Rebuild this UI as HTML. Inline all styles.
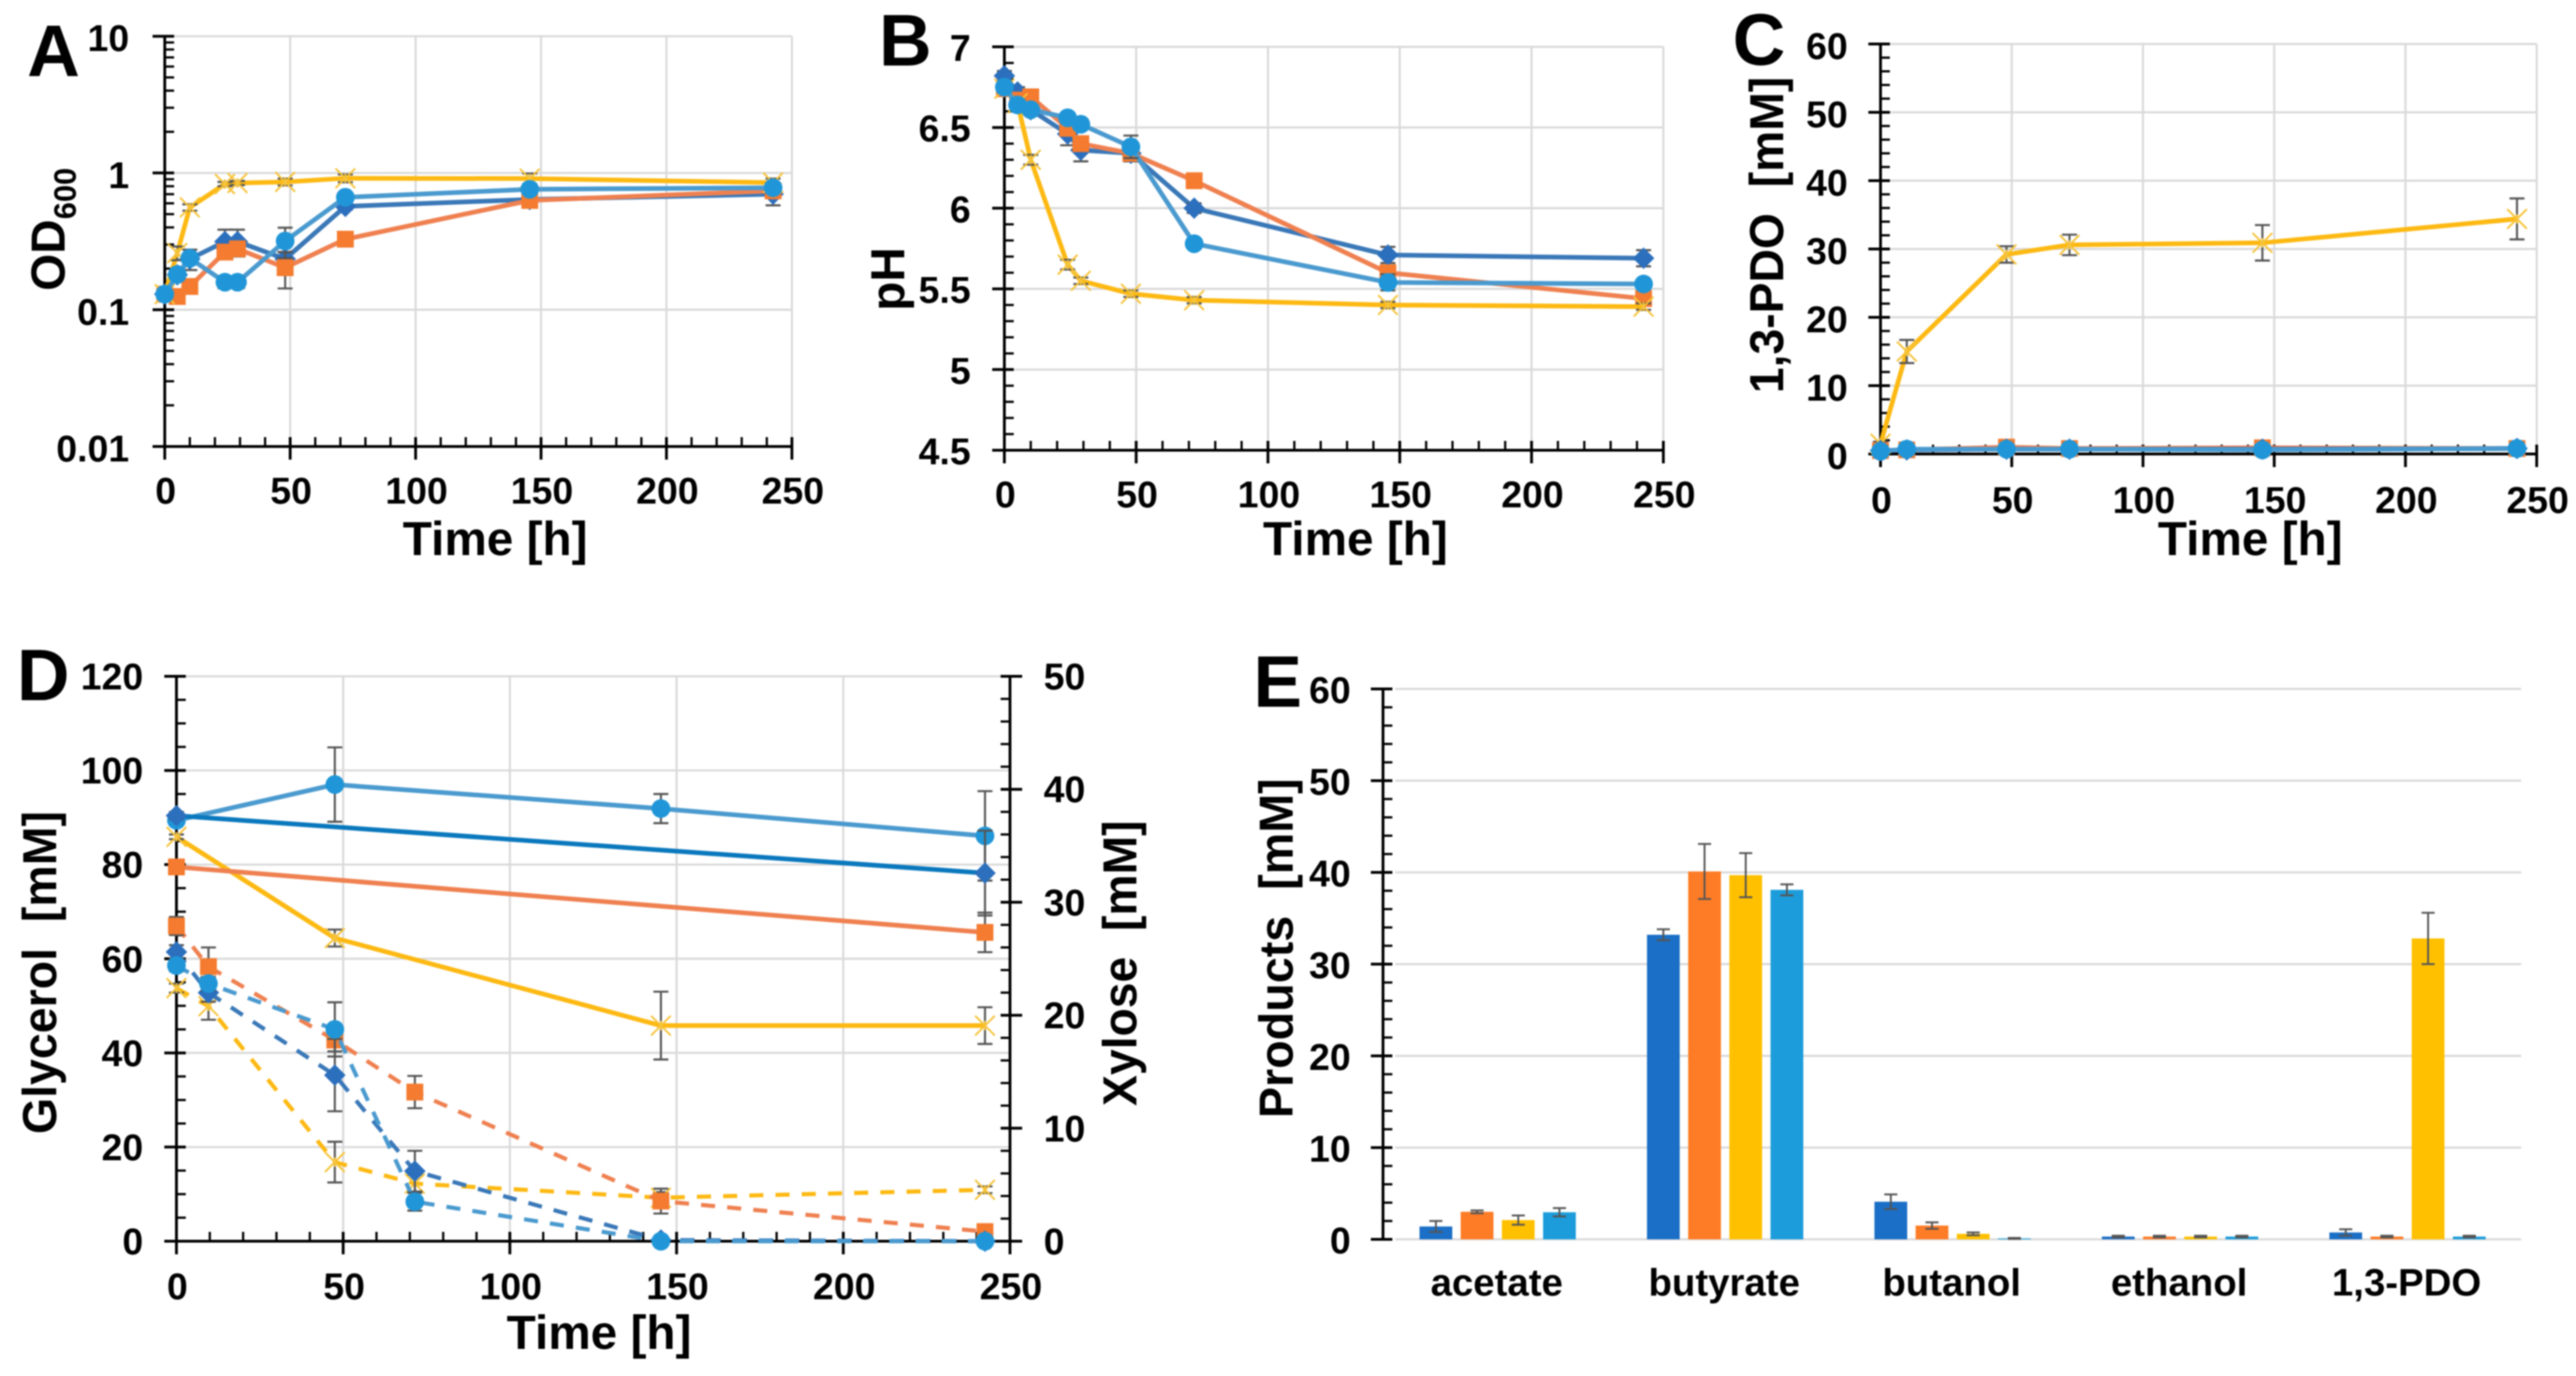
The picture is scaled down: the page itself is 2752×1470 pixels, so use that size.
<!DOCTYPE html>
<html lang="en">
<head>
<meta charset="utf-8">
<title>Fermentation time courses</title>
<style>
html,body{margin:0;padding:0;background:#fff;}
svg{display:block;filter:blur(0.8px);}
text{font-family:"Liberation Sans",sans-serif;fill:#000;}
.title{font-weight:700;font-size:51px;}
.letter{font-weight:700;font-size:78px;}
.tick{font-weight:700;font-size:40px;}
</style>
</head>
<body>
<svg id="fig" xmlns="http://www.w3.org/2000/svg" width="2752" height="1470" viewBox="0 0 2752 1470">
<rect width="2752" height="1470" fill="#fff"/>
<g id="panel-a"></g>
<g id="panel-b"></g>
<g id="panel-c"></g>
<g id="panel-d"></g>
<g id="panel-e"></g>

<text class="letter" x="29" y="81">A</text>
<text class="letter" x="939" y="70">B</text>
<text class="letter" x="1851" y="69">C</text>
<text class="letter" x="18" y="748">D</text>
<text class="letter" x="1339" y="755">E</text>

<text class="title" x="529" y="593" text-anchor="middle">Time [h]</text>
<text class="title" x="1448" y="593" text-anchor="middle">Time [h]</text>
<text class="title" x="2404" y="593" text-anchor="middle">Time [h]</text>
<text class="title" x="640" y="1441" text-anchor="middle">Time [h]</text>

<text class="title" transform="translate(69,245) rotate(-90)" text-anchor="middle">OD<tspan font-size="33" dy="12">600</tspan></text>
<text class="title" transform="translate(966,298) rotate(-90)" text-anchor="middle">pH</text>
<text class="title" transform="translate(1905,251) rotate(-90)" text-anchor="middle" textLength="338" lengthAdjust="spacingAndGlyphs">1,3-PDO&#160;&#160;[mM]</text>
<text class="title" transform="translate(60,1039) rotate(-90)" text-anchor="middle" textLength="345" lengthAdjust="spacingAndGlyphs">Glycerol&#160;&#160;[mM]</text>
<text class="title" transform="translate(1214,1029) rotate(-90)" text-anchor="middle" textLength="305" lengthAdjust="spacingAndGlyphs">Xylose&#160;&#160;[mM]</text>
<text class="title" transform="translate(1381,1013) rotate(-90)" text-anchor="middle" textLength="363" lengthAdjust="spacingAndGlyphs">Products&#160;&#160;[mM]</text>
</svg>

<script>
// ---------- Panel A data (OD600) ----------
const timesA = [0, 5, 10, 24, 29, 48, 72, 145.5, 242.5];
const odDark = [0.13, 0.18, 0.235, 0.315, 0.315, 0.235, 0.57, 0.64, 0.70];
const odOrange = [0.13, 0.125, 0.148, 0.264, 0.279, 0.203, 0.328, 0.63, 0.74];
const odYellow = [0.13, 0.26, 0.56, 0.83, 0.845, 0.86, 0.915, 0.91, 0.85];
const odLight = [0.13, 0.181, 0.238, 0.159, 0.159, 0.318, 0.664, 0.76, 0.78];
const odDarkErr = [0.01, 0.02, 0.04, 0.07, 0.07, 0.03, 0.03, 0.03, 0.12];
const odOrangeErr = [0.01, 0.01, 0.01, 0.02, 0.02, 0.06, 0.02, 0.06, 0.03];
const odYellowErr = [0.01, 0.03, 0.03, 0.03, 0.03, 0.05, 0.06, 0.08, 0.06];
const odLightErr = [0.01, 0.01, 0.01, 0.015, 0.015, 0.08, 0.05, 0.05, 0.06];
const odTicks = [10, 1, 0.1, 0.01];
const odTickLabels = ['10', '1', '0.1', '0.01'];

// ---------- Panel B data (pH) ----------
const timesB = [0, 5, 10, 24, 29, 48, 72, 145.5, 242.5];
const phDark = [6.82, 6.72, 6.61, 6.46, 6.36, 6.34, 6.0, 5.71, 5.69];
const phOrange = [6.74, 6.67, 6.69, 6.495, 6.40, 6.34, 6.17, 5.60, 5.44];
const phYellow = [6.74, 6.65, 6.30, 5.65, 5.55, 5.47, 5.43, 5.40, 5.39];
const phLight = [6.75, 6.64, 6.61, 6.56, 6.52, 6.38, 5.78, 5.54, 5.53];
const phDarkErr = [0.03, 0.03, 0.03, 0.07, 0.07, 0.05, 0.03, 0.05, 0.05];
const phOrangeErr = [0.03, 0.02, 0.02, 0.03, 0.02, 0.04, 0.03, 0.03, 0.03];
const phYellowErr = [0.02, 0.02, 0.03, 0.03, 0.02, 0.02, 0.02, 0.02, 0.02];
const phLightErr = [0.03, 0.03, 0.03, 0.03, 0.03, 0.07, 0.03, 0.05, 0.03];
const phTicks = [7, 6.5, 6, 5.5, 5, 4.5];
const phTickLabels = ['7', '6.5', '6', '5.5', '5', '4.5'];

// ---------- Panel C data (1,3-PDO) ----------
const timesC = [0, 10, 48, 72, 145.5, 242.5];
const pdoDark = [0.5, 0.6, 0.7, 0.7, 0.7, 0.8];
const pdoOrange = [0.5, 0.6, 1.0, 0.8, 0.9, 0.8];
const pdoYellow = [1.5, 15, 29.2, 30.6, 30.9, 34.4];
const pdoLight = [0.4, 0.7, 0.7, 0.7, 0.6, 0.8];
const pdoYellowErr = [0.3, 1.7, 1.2, 1.5, 2.6, 3.0];
const pdoBlueErr = [0.1, 0.1, 0.1, 0.1, 0.1, 0.1];
const pdoTicks = [60, 50, 40, 30, 20, 10, 0];
const pdoTickLabels = ['60', '50', '40', '30', '20', '10', '0'];

// ---------- Panel D data (glycerol solid / xylose dashed) ----------
const timesGlyDark = [0, 242.5];
const glyDark = [90.4, 78.2];
const glyDarkErr = [0.8, 9];
const timesGlyOrange = [0, 242.5];
const glyOrange = [79.5, 65.6];
const glyOrangeErr = [0.8, 4.2];
const timesGlyFull = [0, 47.5, 145.3, 242.5];
const glyYellow = [85.9, 64.4, 45.8, 45.8];
const glyYellowErr = [0.5, 1.8, 7.2, 3.9];
const glyLight = [89.4, 97, 91.9, 86.1];
const glyLightErr = [1, 7.9, 3.1, 9.5];
const timesXyl = [0, 9.6, 47.5, 71.5, 145.3, 242.5];
const xylDark = [25.6, 22, 14.7, 6.2, 0.1, 0];
const xylDarkErr = [0.6, 0.8, 3.2, 1.8, 0.1, 0.1];
const xylOrange = [27.9, 24.3, 17.8, 13.2, 3.55, 0.85];
const xylOrangeErr = [0.8, 1.7, 1.0, 1.43, 1.1, 0.2];
const xylYellow = [22.4, 20.8, 7.0, 5.1, 3.85, 4.55];
const xylYellowErr = [0.4, 1.2, 1.8, 0.8, 0.5, 0.3];
const xylLight = [24.4, 22.8, 18.75, 3.5, 0, 0];
const xylLightErr = [0.5, 0.6, 2.4, 0.8, 0.1, 0.1];
const glyTicks = [120, 100, 80, 60, 40, 20, 0];
const glyTickLabels = ['120', '100', '80', '60', '40', '20', '0'];
const xylTicks = [50, 40, 30, 20, 10, 0];
const xylTickLabels = ['50', '40', '30', '20', '10', '0'];

// ---------- Panel E data (final products) ----------
const productCategories = ['acetate', 'butyrate', 'butanol', 'ethanol', '1,3-PDO'];
const productDark = [1.4, 33.2, 4.1, 0.3, 0.75];
const productOrange = [3.0, 40.1, 1.5, 0.3, 0.3];
const productYellow = [2.1, 39.7, 0.6, 0.3, 32.8];
const productLight = [2.95, 38.1, 0.1, 0.3, 0.3];
const productDarkErr = [0.6, 0.6, 0.8, 0.1, 0.35];
const productOrangeErr = [0.15, 3.0, 0.35, 0.1, 0.1];
const productYellowErr = [0.5, 2.4, 0.15, 0.1, 2.8];
const productLightErr = [0.45, 0.6, 0.05, 0.1, 0.1];
const productTicks = [60, 50, 40, 30, 20, 10, 0];
const productTickLabels = ['60', '50', '40', '30', '20', '10', '0'];

// ---------- Shared time axis ----------
const timeTicks = [0, 50, 100, 150, 200, 250];
const timeTickLabels = ['0', '50', '100', '150', '200', '250'];

const NS = 'http://www.w3.org/2000/svg';
const COLORS = {dark: '#2b6fbd', orange: '#f47b2f', yellow: '#fdb913', light: '#2096d8'};
const LINES = {dark: '#3a78b8', orange: '#ef8050', yellow: '#fdb913', light: '#4a9acf'};
const BARS = {dark: '#1b6fc6', orange: '#ff7c26', yellow: '#ffc000', light: '#1c9cdb'};
const GRID = '#d9d9d9';
const ERR = '#555555';

function mk(parent, tag, attrs, text) {
  const e = document.createElementNS(NS, tag);
  for (const k in attrs) e.setAttribute(k, attrs[k]);
  if (text !== undefined) e.textContent = text;
  parent.appendChild(e);
  return e;
}
function linearScale(d0, d1, r0, r1) { return v => r0 + (v - d0) / (d1 - d0) * (r1 - r0); }
function logScale(d0, d1, r0, r1) {
  const a = Math.log10(d0), b = Math.log10(d1);
  return v => r0 + (Math.log10(v) - a) / (b - a) * (r1 - r0);
}
function segment(parent, x1, y1, x2, y2, stroke, width) {
  return mk(parent, 'line', {x1, y1, x2, y2, stroke, 'stroke-width': width});
}

function drawGridLines(g, x, y, xVals, yVals, left, right, top, bottom) {
  xVals.forEach(v => {
    if (v === 0) return;
    const l = segment(g, x(v), top, x(v), bottom, GRID, 2.2);
    
    
  });
  yVals.forEach(v => {
    const l = segment(g, left, y(v), right, y(v), GRID, 2.2);
    
    
  });
}

function drawTimeAxis(g, x, axisY, baseline) {
  const axis = segment(g, x(0), axisY, x(250), axisY, '#000', 3);
  
  
  for (let t = 0; t <= 250; t += 10) {
    const major = t % 50 === 0;
    const tk = segment(g, x(t), axisY - 10, x(t), axisY + (major ? 14 : 0), '#000', major ? 3 : 2.4);
    
    
  }
  timeTicks.forEach((t, i) => {
    const lb = mk(g, 'text', {class: 'tick', x: x(t) + 1, y: baseline, 'text-anchor': 'middle'}, timeTickLabels[i]);
    
    
  });
}

function drawValueAxis(g, y, ticks, labels, minors, axisX, labelX, anchor, dy, side) {
  const top = Math.min(...ticks.map(y)), bot = Math.max(...ticks.map(y));
  const axis = segment(g, axisX, top, axisX, bot, '#000', 3);
  
  
  minors.forEach(v => {
    const tk = segment(g, axisX, y(v), axisX + side * 10, y(v), '#000', 2.4);
    
    
  });
  ticks.forEach((v, i) => {
    const tk = segment(g, axisX - side * 13, y(v), axisX + side * 10, y(v), '#000', 3);
    
    
    const lb = mk(g, 'text', {class: 'tick', x: labelX, y: y(v) + 14 + dy, 'text-anchor': anchor}, labels[i]);
    
    
  });
}

function stepValues(from, to, step, majorStep) {
  const out = [];
  const n = Math.round((to - from) / step);
  for (let i = 0; i <= n; i++) {
    const v = from + i * step;
    if (Math.abs(v / majorStep - Math.round(v / majorStep)) > 1e-6) out.push(v);
  }
  return out;
}

function drawMarker(g, kind, px, py) {
  let m;
  if (kind === 'dark') {
    const r = 11.5;
    m = mk(g, 'polygon', {points: (px) + ',' + (py - r) + ' ' + (px + r) + ',' + py + ' ' + px + ',' + (py + r) + ' ' + (px - r) + ',' + py, fill: COLORS.dark});
  } else if (kind === 'orange') {
    m = mk(g, 'rect', {x: px - 9, y: py - 9, width: 18, height: 18, fill: COLORS.orange});
  } else if (kind === 'light') {
    m = mk(g, 'circle', {cx: px, cy: py, r: 10, fill: COLORS.light});
  } else {
    const r = 10.5;
    m = mk(g, 'path', {d: 'M' + (px - r) + ' ' + (py - r) + 'L' + (px + r) + ' ' + (py + r) + 'M' + (px - r) + ' ' + (py + r) + 'L' + (px + r) + ' ' + (py - r) + 'M' + px + ' ' + (py - 5) + 'L' + px + ' ' + (py + 5), fill: 'none', stroke: '#f6c33a', 'stroke-width': 2});
  }
  return m;
}

function drawSeries(g, x, y, times, values, errs, kind, dashed, lineColor) {
  const sg = mk(g, 'g', {});
  
  
  const pts = times.map((t, i) => x(t) + ',' + y(values[i])).join(' ');
  const attrs = {points: pts, fill: 'none', stroke: lineColor || LINES[kind], 'stroke-width': dashed ? 4.4 : 5, 'stroke-linejoin': 'round'};
  if (dashed) attrs['stroke-dasharray'] = '15 13';
  const line = mk(sg, 'polyline', attrs);
  
  
  times.forEach((t, i) => {
    const px = x(t), hi = y(values[i] + errs[i]), lo = y(Math.max(values[i] - errs[i], 1e-3));
    const e = mk(sg, 'path', {d: 'M' + px + ' ' + hi + 'L' + px + ' ' + lo + 'M' + (px - 8) + ' ' + hi + 'L' + (px + 8) + ' ' + hi + 'M' + (px - 8) + ' ' + lo + 'L' + (px + 8) + ' ' + lo, fill: 'none', stroke: ERR, 'stroke-width': 2.2});
    
    
  });
  times.forEach((t, i) => {
    const m = drawMarker(sg, kind, x(t), y(values[i]));
    
    
  });
}

// ---------- Panel A ----------
(function () {
  const g = document.getElementById('panel-a');
  const x = linearScale(0, 250, 176, 846), y = logScale(0.01, 10, 477, 38.7);
  drawGridLines(g, x, y, timeTicks, [10, 1, 0.1], 176, 846, 38.7, 477);
  const minors = [];
  [0.01, 0.1, 1].forEach(d => { for (let k = 2; k <= 9; k++) minors.push(d * k); });
  drawValueAxis(g, y, odTicks, odTickLabels, minors, 176, 138, 'end', 2, 1);
  drawTimeAxis(g, x, 477, 538);
  drawSeries(g, x, y, timesA, odDark, odDarkErr, 'dark', false);
  drawSeries(g, x, y, timesA, odOrange, odOrangeErr, 'orange', false);
  drawSeries(g, x, y, timesA, odYellow, odYellowErr, 'yellow', false);
  drawSeries(g, x, y, timesA, odLight, odLightErr, 'light', false);
})();

// ---------- Panel B ----------
(function () {
  const g = document.getElementById('panel-b');
  const x = linearScale(0, 250, 1073, 1777), y = linearScale(4.5, 7, 481, 50);
  drawGridLines(g, x, y, timeTicks, [7, 6.5, 6, 5.5, 5], 1073, 1777, 50, 481);
  drawValueAxis(g, y, phTicks, phTickLabels, stepValues(4.5, 7, 0.1, 0.5), 1073, 1037, 'end', 1, 1);
  drawTimeAxis(g, x, 481, 542);
  drawSeries(g, x, y, timesB, phDark, phDarkErr, 'dark', false);
  drawSeries(g, x, y, timesB, phOrange, phOrangeErr, 'orange', false);
  drawSeries(g, x, y, timesB, phYellow, phYellowErr, 'yellow', false);
  drawSeries(g, x, y, timesB, phLight, phLightErr, 'light', false);
})();

// ---------- Panel C ----------
(function () {
  const g = document.getElementById('panel-c');
  const x = linearScale(0, 250, 2009, 2710), y = linearScale(0, 60, 485, 47);
  drawGridLines(g, x, y, timeTicks, [60, 50, 40, 30, 20, 10], 2009, 2710, 47, 485);
  drawValueAxis(g, y, pdoTicks, pdoTickLabels, stepValues(0, 60, 2, 10), 2009, 1974, 'end', 2, 1);
  drawTimeAxis(g, x, 485, 548);
  drawSeries(g, x, y, timesC, pdoYellow, pdoYellowErr, 'yellow', false);
  drawSeries(g, x, y, timesC, pdoOrange, pdoBlueErr, 'orange', false);
  drawSeries(g, x, y, timesC, pdoDark, pdoBlueErr, 'dark', false);
  drawSeries(g, x, y, timesC, pdoLight, pdoBlueErr, 'light', false);
})();

// ---------- Panel D ----------
(function () {
  const g = document.getElementById('panel-d');
  const x = linearScale(0, 250, 188.5, 1079);
  const y = linearScale(0, 120, 1326, 722.5);
  const y2 = linearScale(0, 50, 1326, 722.5);
  drawGridLines(g, x, y, timeTicks, [120, 100, 80, 60, 40, 20], 188.5, 1079, 722.5, 1326);
  drawValueAxis(g, y, glyTicks, glyTickLabels, stepValues(0, 120, 5, 20), 188.5, 153, 'end', 0, 1);
  drawValueAxis(g, y2, xylTicks, xylTickLabels, stepValues(0, 50, 2, 10), 1079, 1115, 'start', 0, -1);
  drawTimeAxis(g, x, 1326, 1388);
  drawSeries(g, x, y, timesGlyFull, glyYellow, glyYellowErr, 'yellow', false);
  drawSeries(g, x, y, timesGlyOrange, glyOrange, glyOrangeErr, 'orange', false);
  drawSeries(g, x, y, timesGlyFull, glyLight, glyLightErr, 'light', false);
  drawSeries(g, x, y, timesGlyDark, glyDark, glyDarkErr, 'dark', false, '#0a78bd');
  drawSeries(g, x, y2, timesXyl, xylYellow, xylYellowErr, 'yellow', true);
  drawSeries(g, x, y2, timesXyl, xylOrange, xylOrangeErr, 'orange', true);
  drawSeries(g, x, y2, timesXyl, xylDark, xylDarkErr, 'dark', true);
  drawSeries(g, x, y2, timesXyl, xylLight, xylLightErr, 'light', true);
})();

// ---------- Panel E ----------
(function () {
  const g = document.getElementById('panel-e');
  const y = linearScale(0, 60, 1324, 736);
  const left = 1478.5, band = 243, stride = 44, barW = 35;
  const right = left + band * productCategories.length;
  drawGridLines(g, linearScale(0, 1, 0, 1), y, [], [60, 50, 40, 30, 20, 10, 0], left + 12, right, 736, 1324);
  drawValueAxis(g, y, productTicks, productTickLabels, stepValues(0, 60, 2, 10), 1477.5, 1443, 'end', 1, 1);
  const groups = [
    ['dark', productDark, productDarkErr],
    ['orange', productOrange, productOrangeErr],
    ['yellow', productYellow, productYellowErr],
    ['light', productLight, productLightErr]
  ];
  productCategories.forEach((cat, c) => {
    const cx = left + band * (c + 0.5);
    groups.forEach((s, k) => {
      const bx = cx + (k - 2) * stride + (stride - barW) / 2;
      const val = s[1][c], err = s[2][c];
      const bar = mk(g, 'rect', {x: bx, y: y(val), width: barW, height: y(0) - y(val), fill: BARS[s[0]]});
      
      
      const px = bx + barW / 2, hi = y(val + err), lo = y(Math.max(val - err, 0));
      const e = mk(g, 'path', {d: 'M' + px + ' ' + hi + 'L' + px + ' ' + lo + 'M' + (px - 7) + ' ' + hi + 'L' + (px + 7) + ' ' + hi + 'M' + (px - 7) + ' ' + lo + 'L' + (px + 7) + ' ' + lo, fill: 'none', stroke: ERR, 'stroke-width': 2});
      
      
    });
    const lb = mk(g, 'text', {class: 'tick', x: cx - 1, y: 1384, 'text-anchor': 'middle', style: 'font-size:41px'}, cat);
    
    
  });
})();
</script>
</body>
</html>
